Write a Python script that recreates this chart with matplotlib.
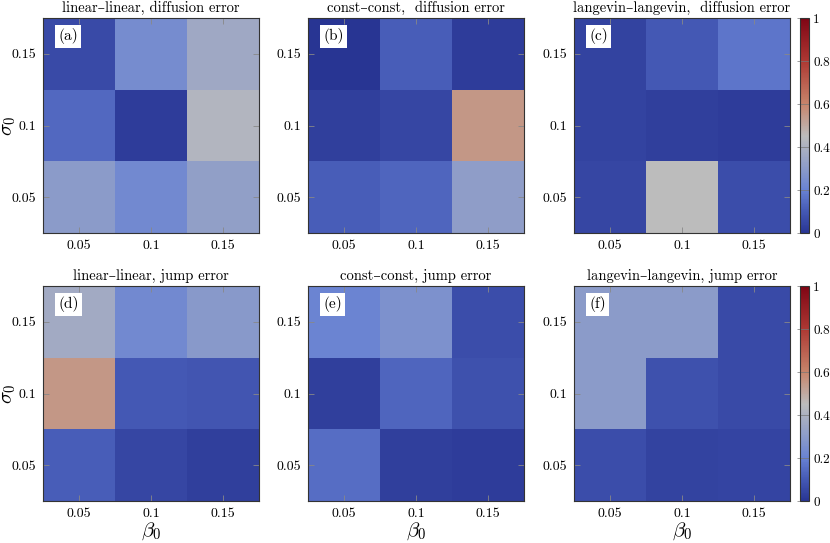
import numpy as np
import matplotlib
matplotlib.use("Agg")
import matplotlib.pyplot as plt
from matplotlib.colors import LinearSegmentedColormap

plt.rcParams['font.family'] = ['cmr10', 'DejaVu Serif']
plt.rcParams['mathtext.fontset'] = 'cm'
plt.rcParams['axes.formatter.use_mathtext'] = True

beta_ticks = ["0.05", "0.1", "0.15"]
sigma_ticks = ["0.05", "0.1", "0.15"]

titles = ["linear\u2013linear, diffusion error", "const\u2013const,  diffusion error",
          "langevin\u2013langevin,  diffusion error",
          "linear\u2013linear, jump error", "const\u2013const, jump error",
          "langevin\u2013langevin, jump error"]
panel_labels = ["(a)", "(b)", "(c)", "(d)", "(e)", "(f)"]

# rows: sigma 0.05, 0.1, 0.15 (bottom to top); cols: beta 0.05, 0.1, 0.15
lin_diff = [[0.30, 0.23, 0.32], [0.14, 0.02, 0.42], [0.06, 0.24, 0.36]]
const_diff = [[0.11, 0.13, 0.31], [0.03, 0.05, 0.55], [0.00, 0.11, 0.02]]
lang_diff = [[0.05, 0.45, 0.07], [0.04, 0.03, 0.02], [0.04, 0.10, 0.17]]
lin_jump = [[0.11, 0.05, 0.03], [0.55, 0.10, 0.09], [0.37, 0.23, 0.29]]
const_jump = [[0.15, 0.03, 0.02], [0.03, 0.13, 0.08], [0.21, 0.26, 0.07]]
lang_jump = [[0.07, 0.04, 0.045], [0.30, 0.08, 0.06], [0.30, 0.30, 0.06]]
data = [lin_diff, const_diff, lang_diff, lin_jump, const_jump, lang_jump]

cmap = LinearSegmentedColormap.from_list("cw", [
    (0.0, (0.16, 0.21, 0.58)),
    (0.1, (0.27, 0.35, 0.71)),
    (0.2, (0.41, 0.51, 0.83)),
    (0.3, (0.55, 0.61, 0.79)),
    (0.45, (0.74, 0.74, 0.74)),
    (0.6, (0.78, 0.52, 0.42)),
    (0.8, (0.68, 0.22, 0.20)),
    (1.0, (0.50, 0.02, 0.08)),
])

W, H = 830, 543
fig = plt.figure(figsize=(W / 100, H / 100), dpi=100)
lefts = [43, 308, 574]
tops = [18, 286]
aw, ah = 216, 215

def px(l, t, w, h):
    return [l / W, (H - t - h) / H, w / W, h / H]

for i in range(6):
    r, c = divmod(i, 3)
    ax = fig.add_axes(px(lefts[c], tops[r], aw, ah))
    im = ax.imshow(np.array(data[i]), origin='lower', cmap=cmap, vmin=0, vmax=1,
                   aspect='auto', extent=[-0.5, 2.5, -0.5, 2.5])
    ax.set_xticks([0, 1, 2])
    ax.set_xticklabels(beta_ticks)
    ax.set_yticks([0, 1, 2])
    ax.set_yticklabels(sigma_ticks)
    ax.tick_params(direction='in', top=True, right=True, length=4, width=0.6,
                   color='#888888', labelsize=10, pad=5)
    for s in ax.spines.values():
        s.set_linewidth(0.8)
        s.set_color('#333333')
    ax.set_title(titles[i], fontsize=10.5, pad=4)
    ax.text(0.07, 0.915, panel_labels[i], transform=ax.transAxes, fontsize=11,
            va='center', ha='left',
            bbox=dict(facecolor='white', edgecolor='none', pad=2.5))
    if c == 0:
        yc = 1 - (tops[r] + ah / 2) / H
        fig.text(9 / W, yc, r'$\sigma_0$', fontsize=15, rotation=90,
                 ha='center', va='center')
    if r == 1:
        ax.set_xlabel(r'$\beta_0$', fontsize=15, labelpad=0)
    if c == 2:
        cax = fig.add_axes(px(800, tops[r], 9, ah))
        cb = fig.colorbar(im, cax=cax)
        cb.set_ticks([0, 0.2, 0.4, 0.6, 0.8, 1])
        cb.set_ticklabels(["0", "0.2", "0.4", "0.6", "0.8", "1"])
        cax.tick_params(direction='in', length=9, width=0.5, color='#777777',
                        labelsize=9.5, pad=3)
        cb.outline.set_linewidth(0.8)
        cb.outline.set_edgecolor('#333333')

fig.savefig("out.png", dpi=100)
